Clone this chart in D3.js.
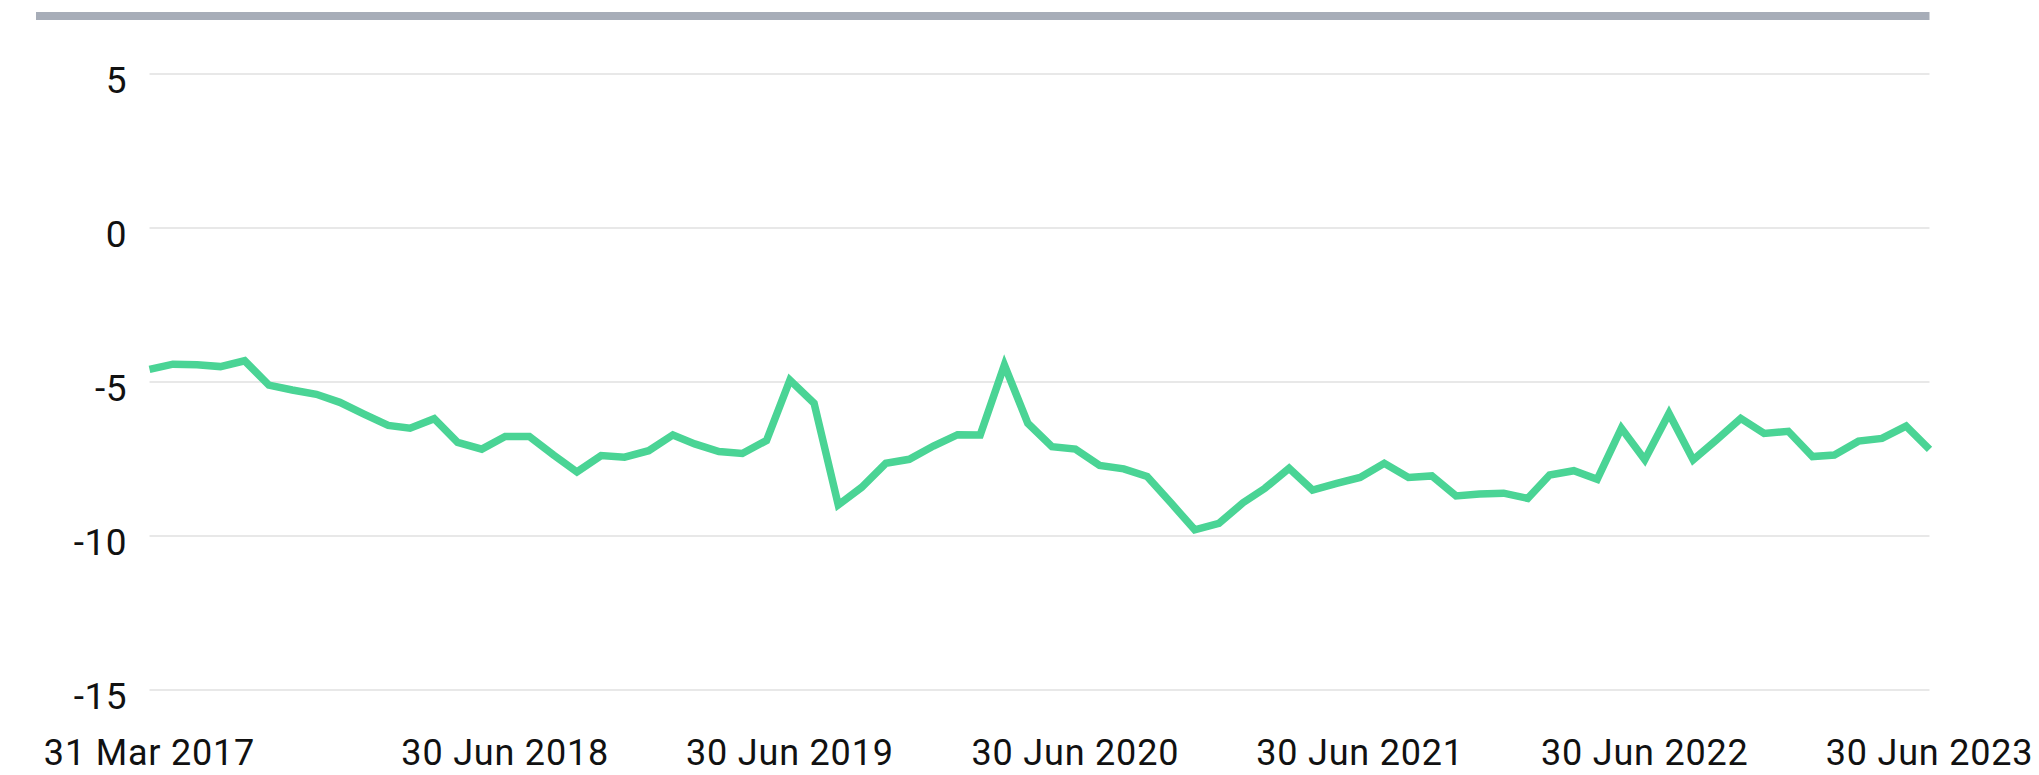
<!DOCTYPE html>
<html>
<head>
<meta charset="utf-8">
<script src="https://cdn.jsdelivr.net/npm/d3@7"></script>
<style>
  html, body { margin: 0; padding: 0; background: #fff; }
  svg text { font-family: Roboto, sans-serif; fill: #111; }
</style>
</head>
<body>
<div id="chart"></div>
<script>

// Months: end of month, 31 Mar 2017 .. 30 Jun 2023
var months = d3.timeMonth.range(new Date(2017, 3, 1), new Date(2023, 6, 2))
  .map(function(d){ return d3.timeDay.offset(d, -1); });

var values = [
  -4.59, -4.42, -4.44, -4.50, -4.31, -5.10, -5.26, -5.40, -5.66, -6.04,
  -6.41, -6.50, -6.19, -6.96, -7.18, -6.77, -6.77, -7.37, -7.92, -7.39,
  -7.44, -7.23, -6.72, -7.01, -7.26, -7.32, -6.90, -4.94, -5.69, -8.99,
  -8.42, -7.64, -7.51, -7.08, -6.71, -6.72, -4.45, -6.34, -7.10, -7.18,
  -7.71, -7.82, -8.07, -8.94, -9.80, -9.59, -8.92, -8.45, -7.80, -8.51,
  -8.29, -8.10, -7.64, -8.10, -8.05, -8.70, -8.64, -8.61, -8.78, -8.02,
  -7.88, -8.16, -6.50, -7.52, -6.02, -7.53, -6.88, -6.18, -6.67, -6.60,
  -7.42, -7.37, -6.92, -6.83, -6.43, -7.19
];

var yTicks = [5, 0, -5, -10, -15];
var xTicks = [
  new Date(2017, 2, 31), new Date(2018, 5, 30), new Date(2019, 5, 30),
  new Date(2020, 5, 30), new Date(2021, 5, 30), new Date(2022, 5, 30),
  new Date(2023, 5, 30)
];

var data = months.map(function(d, i){ return { date: d, value: values[i] }; });

var w = 2039, h = 775;
var left = 149.5, right = 1929.5;

var svg = d3.select('#chart').append('svg')
  .attr('width', w).attr('height', h);

// Scales
var x = d3.scaleTime().domain([months[0], months[months.length - 1]]).range([left, right]);
var y = d3.scaleLinear().domain([-15, 5]).range([690, 74]);

// top bar
svg.append('rect')
  .attr('x', 36).attr('y', 12)
  .attr('width', right - 36).attr('height', 8)
  .style('fill', '#a7adb8');

// grid
svg.selectAll('.grid')
  .data(yTicks)
  .enter().append('line')
  .attr('class', 'grid')
  .attr('x1', left).attr('x2', right)
  .attr('y1', function(d){ return y(d); })
  .attr('y2', function(d){ return y(d); })
  .style('stroke', '#e1e1e1')
  .style('stroke-width', 1.5);

// y labels
svg.selectAll('.ylab')
  .data(yTicks)
  .enter().append('text')
  .attr('class', 'ylab')
  .attr('x', 127)
  .attr('y', function(d){ return y(d) + 19; })
  .attr('text-anchor', 'end')
  .style('font-size', '37px')
  .style('letter-spacing', '0.5px')
  .text(function(d){ return d; });

// x labels
var fmt = d3.timeFormat('%d %b %Y');
svg.selectAll('.xlab')
  .data(xTicks)
  .enter().append('text')
  .attr('class', 'xlab')
  .attr('x', function(d){ return x(d); })
  .attr('y', 765)
  .attr('text-anchor', 'middle')
  .style('font-size', '36px')
  .style('letter-spacing', '0.8px')
  .text(function(d){ return fmt(d); });

// line
var line = d3.line()
  .x(function(d){ return x(d.date); })
  .y(function(d){ return y(d.value); });

svg.append('path')
  .datum(data)
  .attr('d', line)
  .style('fill', 'none')
  .style('stroke', '#4ad495')
  .style('stroke-width', 7.5)
  .style('stroke-linejoin', 'miter');

</script>
</body>
</html>
